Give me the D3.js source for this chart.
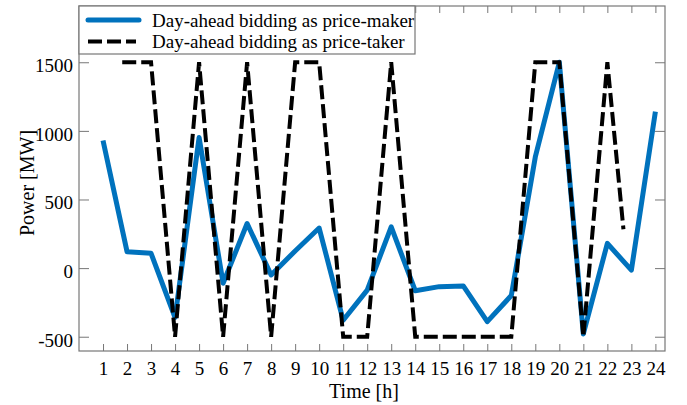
<!DOCTYPE html>
<html>
<head>
<meta charset="utf-8">
<script src="https://cdn.jsdelivr.net/npm/d3@7"></script>
<style>
  body { margin: 0; background: #fff; }
  text { font-family: "Liberation Serif", "Times New Roman", serif; }
</style>
</head>
<body>
<div id="chart"></div>
<script>
// hours and values
var hours = [1, 2, 3, 4, 5, 6, 7, 8, 9, 10, 11, 12, 13, 14, 15, 16, 17, 18, 19, 20, 21, 22, 23, 24];
var makerPower = [930, 120, 108, -360, 952, -110, 325, -50, 125, 292, -380, -160, 300, -165, -135, -130, -390, -200, 810, 1500, -480, 180, -15, 1140];
// the price-taker line starts a bit after hour 1 and stops before hour 23
var takerHours = [1.8, 2, 3, 4, 5, 6, 7, 8, 9, 10, 11, 12, 13, 14, 15, 16, 17, 18, 19, 20, 21, 22, 22.67];
var takerPower = [1500, 1500, 1500, -500, 1500, -500, 1500, -500, 1500, 1500, -500, -500, 1500, -500, -500, -500, -500, -500, 1500, 1500, -500, 1500, 283];
var yTicks = [-500, 0, 500, 1000, 1500];
var seriesNames = ["Day-ahead bidding as price-maker", "Day-ahead bidding as price-taker"];

var width = 687, height = 405;
var plotLeft = 79, plotRight = 665, plotTop = 6, plotBottom = 351;
var frameColor = "#777";
var blue = "#0072BD";

var svg = d3.select("#chart")
    .append("svg")
    .attr("width", width)
    .attr("height", height);

var xScale = d3.scaleLinear().domain([0, 24.4]).range([plotLeft, plotRight]);
var yScale = d3.scaleLinear().domain([-604, 1910]).range([plotBottom, plotTop]);

// axes (ticks point inward), plain hyphen for negatives like the original
var xAxis = d3.axisBottom().scale(xScale).tickValues(hours)
    .tickFormat(d => String(d)).tickSize(-7).tickPadding(10.5);
var yAxis = d3.axisLeft().scale(yScale).tickValues(yTicks)
    .tickFormat(d => String(d)).tickSize(-10).tickPadding(6);

var gx = svg.append("g")
    .attr("transform", "translate(0," + plotBottom + ")")
    .call(xAxis);
var gy = svg.append("g")
    .attr("transform", "translate(" + plotLeft + ",0)")
    .call(yAxis);
var gTop = svg.append("g")
    .attr("transform", "translate(0," + plotTop + ")")
    .call(d3.axisTop().scale(xScale).tickValues(hours).tickSize(-7).tickFormat(""));
var gRight = svg.append("g")
    .attr("transform", "translate(" + plotRight + ",0)")
    .call(d3.axisRight().scale(yScale).tickValues(yTicks).tickSize(-10).tickFormat(""));

[gx, gy, gTop, gRight].forEach(function (g) {
    g.select(".domain").remove();
    g.selectAll("line").attr("stroke", frameColor);
    g.selectAll("text")
        .attr("fill", "#000")
        .style("font-family", "'Liberation Serif', 'Times New Roman', serif")
        .style("font-size", "19px");
});
gy.selectAll("text").attr("dy", "0.5em");

// lines
var line = d3.line()
    .x(d => xScale(d[0]))
    .y(d => yScale(d[1]));

svg.append("path")
    .datum(d3.zip(hours, makerPower))
    .attr("d", line)
    .attr("fill", "none")
    .attr("stroke", blue)
    .attr("stroke-width", 5)
    .attr("stroke-linejoin", "round");

svg.append("path")
    .datum(d3.zip(takerHours, takerPower))
    .attr("d", line)
    .attr("fill", "none")
    .attr("stroke", "#000")
    .attr("stroke-width", 4)
    .attr("stroke-dasharray", "14,5")
    .attr("stroke-linejoin", "miter");

// frame
svg.append("rect")
    .attr("x", plotLeft).attr("y", plotTop)
    .attr("width", plotRight - plotLeft).attr("height", plotBottom - plotTop)
    .attr("fill", "none")
    .attr("stroke", frameColor)
    .attr("stroke-width", 1.2);

// legend
var legend = svg.append("g");
legend.append("rect")
    .attr("x", plotLeft).attr("y", plotTop)
    .attr("width", 336).attr("height", 48)
    .attr("fill", "#fff")
    .attr("stroke", frameColor)
    .attr("stroke-width", 1.2);
legend.append("line")
    .attr("x1", 88).attr("x2", 139)
    .attr("y1", 20).attr("y2", 20)
    .attr("stroke", blue).attr("stroke-width", 5)
    .attr("stroke-linecap", "round");
legend.append("line")
    .attr("x1", 88).attr("x2", 136)
    .attr("y1", 41.5).attr("y2", 41.5)
    .attr("stroke", "#000").attr("stroke-width", 4)
    .attr("stroke-dasharray", "14,5");
legend.selectAll("text.entry")
    .data(seriesNames).enter().append("text")
    .attr("class", "entry")
    .attr("x", 152)
    .attr("y", (d, i) => 27 + i * 20.5)
    .style("font-size", "19px")
    .text(d => d);

// axis titles
svg.append("text")
    .attr("x", 364).attr("y", 398)
    .attr("text-anchor", "middle")
    .style("font-size", "20px")
    .text("Time [h]");
svg.append("g")
    .attr("transform", "translate(" + 34 + ", " + 183 + ")")
    .append("text")
    .attr("transform", "rotate(-90)")
    .attr("text-anchor", "middle")
    .style("font-size", "20px")
    .text("Power [MW]");
</script>
</body>
</html>
